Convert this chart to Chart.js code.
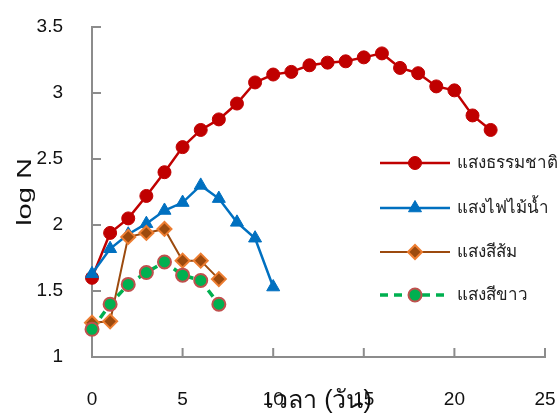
<!DOCTYPE html>
<html>
<head>
<meta charset="utf-8">
<script src="https://cdn.jsdelivr.net/npm/chart.js@4/dist/chart.umd.min.js"></script>
<style>
  html, body { margin: 0; padding: 0; background: #fff; }
  #wrap { width: 559px; height: 416px; }
</style>
</head>
<body>
<div id="wrap"><canvas id="c" width="559" height="416"></canvas></div>
<script>
// Growth curves (log N) per day under four light conditions
const days = [0,1,2,3,4,5,6,7,8,9,10,11,12,13,14,15,16,17,18,19,20,21,22];
const naturalLight = [1.60,1.94,2.05,2.22,2.40,2.59,2.72,2.80,2.92,3.08,3.14,3.16,3.21,3.23,3.24,3.27,3.30,3.19,3.15,3.05,3.02,2.83,2.72];
const aquariumLight = [1.63,1.82,1.93,2.01,2.11,2.17,2.30,2.20,2.02,1.90,1.53];
const orangeLight = [1.26,1.27,1.91,1.94,1.97,1.73,1.73,1.59];
const whiteLight = [1.21,1.40,1.55,1.64,1.72,1.62,1.58,1.40];
const seriesNames = ['แสงธรรมชาติ', 'แสงไฟไม้น้ำ', 'แสงสีส้ม', 'แสงสีขาว'];
const xTicks = [0, 5, 10, 15, 20, 25];
const yTicks = [1, 1.5, 2, 2.5, 3, 3.5];
const xTitle = 'เวลา (วัน)';
const yTitle = 'log N';

const FONT = '"Liberation Sans", Arial, "Noto Sans", sans-serif';
const AXIS = '#8c8c8c';

function pairs(values) {
  return values.map((v, i) => ({ x: days[i], y: v }));
}

const datasets = [
  {
    label: seriesNames[0], data: pairs(naturalLight), order: 3,
    borderColor: '#C00000', backgroundColor: '#C00000', borderWidth: 2.5,
    pointStyle: 'circle', pointRadius: 6.5, pointBorderWidth: 1,
    pointBackgroundColor: '#C00000', pointBorderColor: '#C00000'
  },
  {
    label: seriesNames[1], data: pairs(aquariumLight), order: 2,
    borderColor: '#0070C0', backgroundColor: '#0070C0', borderWidth: 2.5,
    pointStyle: 'triangle', pointRadius: 7.5, pointBorderWidth: 1,
    pointBackgroundColor: '#0070C0', pointBorderColor: '#0070C0'
  },
  {
    label: seriesNames[2], data: pairs(orangeLight), order: 1,
    borderColor: '#9C4A0E', backgroundColor: '#9C4A0E', borderWidth: 2,
    pointStyle: 'rectRot', pointRadius: 7, pointBorderWidth: 2,
    pointBackgroundColor: '#9C4A0E', pointBorderColor: '#ED7D31'
  },
  {
    label: seriesNames[3], data: pairs(whiteLight), order: 0,
    borderColor: '#00B050', backgroundColor: '#00B050', borderWidth: 3.5,
    borderDash: [8, 6],
    pointStyle: 'circle', pointRadius: 6.5, pointBorderWidth: 2,
    pointBackgroundColor: '#00B050', pointBorderColor: '#C0504D'
  }
];
datasets.forEach(d => { d.clip = false; d.tension = 0; d.fill = false; });

// Short tick marks pointing into the plot area
const innerTicks = {
  id: 'innerTicks',
  afterDatasetsDraw(chart) {
    const { ctx, scales: { x, y } } = chart;
    ctx.save();
    ctx.strokeStyle = AXIS;
    ctx.lineWidth = 2;
    ctx.beginPath();
    xTicks.forEach(v => {
      const px = x.getPixelForValue(v);
      ctx.moveTo(px, y.bottom);
      ctx.lineTo(px, y.bottom - 9);
    });
    yTicks.forEach(v => {
      const py = y.getPixelForValue(v);
      ctx.moveTo(x.left, py);
      ctx.lineTo(x.left + 9, py);
    });
    ctx.stroke();
    ctx.restore();
  }
};

// Vertical axis title, set wide along its reading direction
const yAxisTitle = {
  id: 'yAxisTitle',
  afterDraw(chart) {
    const { ctx, chartArea } = chart;
    ctx.save();
    ctx.translate(25, (chartArea.top + chartArea.bottom) / 2);
    ctx.rotate(-Math.PI / 2);
    ctx.scale(1.45, 1);
    ctx.fillStyle = '#111';
    ctx.font = '20px ' + FONT;
    ctx.textAlign = 'center';
    ctx.textBaseline = 'middle';
    ctx.fillText(yTitle, 0, 0);
    ctx.restore();
  }
};

// Legend drawn over the right side of the plot
const sideLegend = {
  id: 'sideLegend',
  afterDraw(chart) {
    const { ctx } = chart;
    const x0 = 380, x1 = 450, xm = 415, tx = 457;
    const rows = [163, 208, 252, 295];
    ctx.save();
    chart.data.datasets.forEach((ds, i) => {
      const yy = rows[i];
      ctx.strokeStyle = ds.borderColor;
      ctx.lineWidth = ds.borderWidth;
      ctx.setLineDash(ds.borderDash || []);
      ctx.beginPath();
      ctx.moveTo(x0, yy);
      ctx.lineTo(x1, yy);
      ctx.stroke();
      ctx.setLineDash([]);
      ctx.fillStyle = ds.pointBackgroundColor;
      ctx.strokeStyle = ds.pointBorderColor;
      ctx.lineWidth = ds.pointBorderWidth;
      Chart.helpers.drawPoint(ctx, {
        pointStyle: ds.pointStyle, radius: ds.pointRadius, rotation: 0,
        borderWidth: ds.pointBorderWidth
      }, xm, yy);
      ctx.fillStyle = '#222';
      ctx.font = '17px ' + FONT;
      ctx.textAlign = 'left';
      ctx.textBaseline = 'middle';
      ctx.fillText(ds.label, tx, yy);
    });
    ctx.restore();
  }
};

new Chart(document.getElementById('c'), {
  type: 'line',
  data: { datasets },
  options: {
    responsive: false,
    devicePixelRatio: 1,
    animation: false,
    layout: { padding: { left: 0, right: 14, top: 27, bottom: 0 } },
    plugins: { legend: { display: false }, tooltip: { enabled: false } },
    scales: {
      x: {
        type: 'linear', min: 0, max: 25,
        afterBuildTicks: s => { s.ticks = xTicks.map(v => ({ value: v })); },
        afterFit: s => { s.height = 59; s.paddingLeft = 0; s.paddingRight = 0; },
        grid: { display: true, drawOnChartArea: false, drawTicks: false },
        border: { display: true, color: AXIS, width: 2 },
        ticks: { color: '#111', font: { family: FONT, size: 19 }, padding: 31, maxRotation: 0,
                 callback: v => String(v) },
        title: { display: true, text: xTitle, color: '#111', font: { family: FONT, size: 25 }, padding: { top: 1, bottom: 0 } }
      },
      y: {
        type: 'linear', min: 1, max: 3.5,
        afterBuildTicks: s => { s.ticks = yTicks.map(v => ({ value: v })); },
        afterFit: s => { s.width = 92; s.paddingTop = 0; s.paddingBottom = 0; },
        grid: { display: true, drawOnChartArea: false, drawTicks: false },
        border: { display: true, color: AXIS, width: 2 },
        ticks: { color: '#111', font: { family: FONT, size: 19 }, padding: 29,
                 callback: v => String(v) },
        title: { display: false }
      }
    }
  },
  plugins: [innerTicks, yAxisTitle, sideLegend]
});
</script>
</body>
</html>
